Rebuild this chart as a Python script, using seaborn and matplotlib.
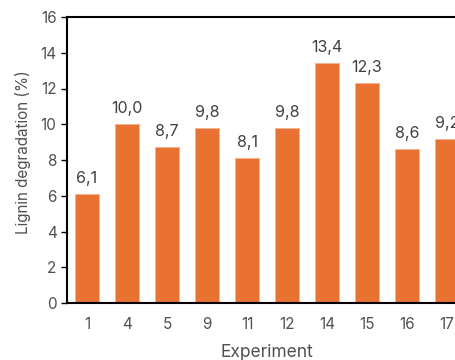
import pandas as pd
import seaborn as sns
import matplotlib.pyplot as plt

# data
experiments = ["1", "4", "5", "9", "11", "12", "14", "15", "16", "17"]
degradation = [6.1, 10.0, 8.7, 9.8, 8.1, 9.8, 13.4, 12.3, 8.6, 9.2]

df = pd.DataFrame({"Experiment": experiments, "Lignin": degradation})

sns.set_style("white")
plt.rcParams["font.family"] = ["Inter", "DejaVu Sans"]

fig = plt.figure(figsize=(4.56, 3.6), dpi=100)
ax = fig.add_axes([67 / 456, 57 / 360, 400 / 456, 286 / 360])

sns.barplot(data=df, x="Experiment", y="Lignin", color="#E97132",
            saturation=1, width=0.58, edgecolor="#F4B48F", linewidth=0.6, ax=ax)

for i, v in enumerate(degradation):
    ax.text(i, v + 0.45, f"{v:.1f}".replace(".", ","), ha="center", va="bottom",
            fontsize=11.5, color="#404040")

ax.set_xlim(-0.5, 9.5)
ax.set_ylim(0, 16)
ax.set_yticks(range(0, 17, 2))
ax.set_xlabel("Experiment", fontsize=12.5, color="#505050", va="center")
ax.xaxis.set_label_coords(0.5, -0.172)
ax.set_ylabel("Lignin degradation (%)", fontsize=11, color="#505050", va="center")
ax.yaxis.set_label_coords(-0.11, 0.528)
ax.tick_params(axis="both", labelsize=11, labelcolor="#505050")
ax.tick_params(axis="x", length=0, pad=10)
ax.tick_params(axis="y", length=4, width=1, color="black", left=True)

for s in ["left", "top", "bottom"]:
    ax.spines[s].set_color("black")
    ax.spines[s].set_linewidth(1.5)
ax.spines["right"].set_visible(False)

fig.savefig("out.png", dpi=100)
